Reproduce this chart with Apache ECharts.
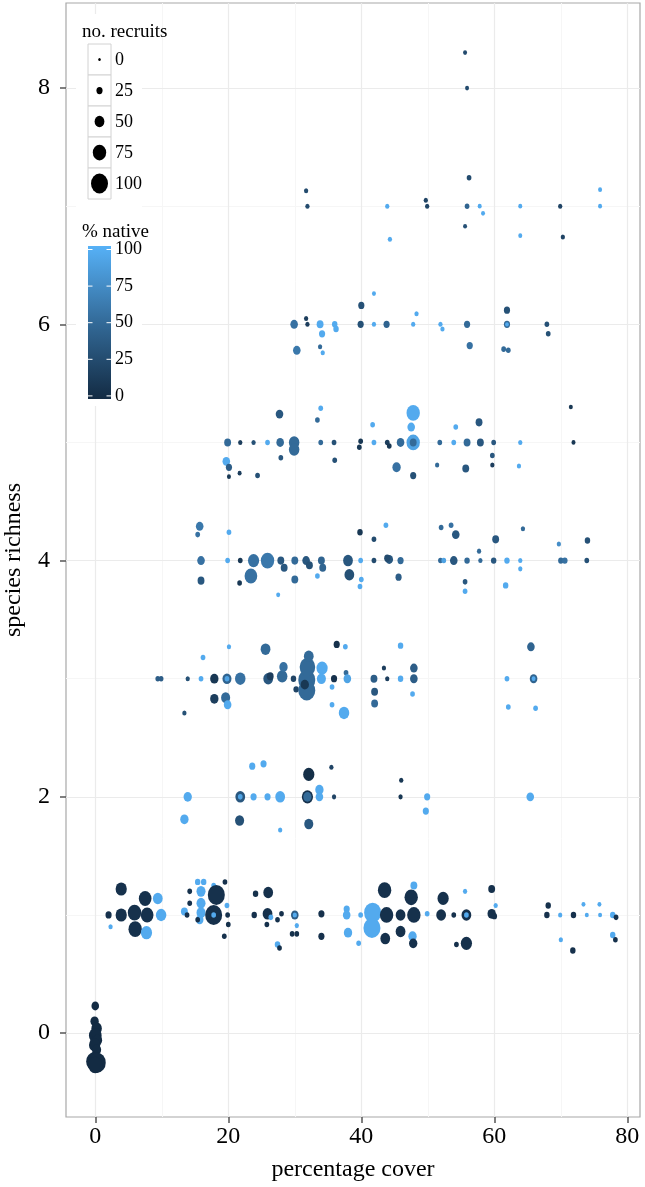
<!DOCTYPE html>
<html><head><meta charset="utf-8">
<script src="https://cdn.jsdelivr.net/npm/echarts@6/dist/echarts.min.js"></script>
<style>html,body{margin:0;padding:0;background:#fff}#c{width:645px;height:1187px}</style>
</head><body><div id="c"></div>
<script>
// each point: [percentage cover, species richness (jittered), no. recruits, % native]
const row0 = [[0.0,0.23,35,0],[-0.1,0.1,40,0],[0.2,0.04,55,0],[0.0,-0.02,70,0],[0.3,-0.06,50,0],[-0.1,-0.1,60,0],[0.2,-0.14,45,0],[0.0,-0.2,50,0],[-0.2,-0.24,90,0],[0.3,-0.25,100,0],[0.0,-0.27,80,0]];
const row1 = [[2.0,1.0,25,5],[2.3,0.9,12,95],[3.9,1.22,60,5],[3.9,1.0,60,5],[5.9,1.02,75,5],[6.0,0.88,75,5],[7.5,1.14,70,5],[7.8,1.0,70,5],[7.7,0.85,60,95],[9.4,1.14,50,95],[9.9,1.0,55,95],
  [13.4,1.03,30,95],[13.8,1.0,15,5],[14.2,1.2,15,5],[14.2,1.1,15,5],[15.4,1.28,20,95],[16.3,1.28,20,95],[15.9,1.2,45,95],[15.9,1.1,45,95],[15.9,1.02,45,95],[15.7,0.96,35,95],[15.4,0.96,15,5],
  [17.8,1.25,15,95],[18.2,1.17,100,5],[17.8,1.0,100,5],[17.8,1.0,15,95],[19.5,1.28,15,5],[19.8,1.08,15,95],[19.9,1.0,15,5],[20.0,0.92,15,5],[19.4,0.82,15,5],
  [24.1,1.18,20,5],[23.9,1.0,20,5],[26.0,1.19,50,5],[25.9,1.01,50,5],[25.8,0.92,15,5],[26.4,0.98,15,95],[27.4,0.96,15,5],[28.0,1.01,15,5],[27.4,0.75,20,95],[27.7,0.72,15,5],
  [30.0,1.0,35,40],[30.0,1.0,12,95],[30.3,0.91,12,95],[29.6,0.84,15,5],[30.3,0.84,15,5],[34.0,1.01,25,5],[34.0,0.82,25,5],
  [37.8,1.05,25,95],[37.8,1.0,35,95],[38.0,0.85,40,95],[39.6,0.76,15,95],[39.9,1.0,15,95],[41.7,1.02,100,95],[41.6,0.89,100,95],
  [43.5,1.21,75,5],[43.8,1.0,75,5],[43.6,0.8,50,5],[45.9,1.0,50,5],[45.9,0.86,50,5],[47.5,1.15,75,5],[47.9,1.25,30,95],[47.9,1.0,75,5],[47.7,0.82,40,95],[47.8,0.76,40,5],
  [49.9,1.01,15,95],[52.3,1.14,60,5],[52.0,1.0,50,5],[53.9,1.0,15,5],[55.6,1.2,12,95],[55.8,1.0,50,5],[55.8,1.0,15,95],[55.8,0.76,60,5],[54.3,0.75,15,5],
  [59.6,1.22,30,5],[60.2,1.08,12,95],[59.6,1.01,40,5],[60.0,0.99,20,5],
  [68.1,1.08,20,5],[67.9,1.0,20,5],[69.9,1.0,12,95],[70.0,0.79,12,95],[71.9,1.0,20,5],[71.8,0.7,20,5],[73.4,1.09,10,95],[73.9,1.0,10,95],[75.8,1.09,10,95],[75.9,1.0,10,95],
  [77.8,1.0,20,95],[78.3,0.98,15,5],[77.8,0.83,20,95],[78.2,0.79,15,5]];
const row2 = [[13.9,2.0,40,95],[13.4,1.81,40,95],[23.6,2.26,25,95],[25.3,2.28,25,95],[21.8,2.0,50,35],[21.8,2.0,15,90],[21.7,1.8,45,30],[23.8,2.0,25,95],[25.9,2.0,25,95],[27.8,2.0,50,95],[27.8,1.72,12,95],
  [32.1,2.19,60,3],[31.9,2.0,60,5],[31.9,2.0,40,50],[32.1,1.77,45,35],[33.7,2.06,40,95],[33.7,2.0,35,95],[35.5,2.25,12,20],[35.9,2.0,12,20],[46.0,2.14,12,10],[45.9,2.0,12,10],[49.9,2.0,25,95],[49.7,1.88,25,95],[65.4,2.0,35,95]];
const row3 = [[9.4,3.0,15,40],[9.9,3.0,15,40],[13.9,3.0,12,30],[13.4,2.71,12,30],[16.2,3.18,15,95],[15.9,3.0,15,95],[17.9,3.0,40,10],[17.9,2.83,40,15],[19.8,3.0,45,45],[19.8,3.0,15,90],[19.6,2.84,45,50],[19.9,2.78,35,95],[20.1,3.27,12,95],
  [21.8,3.0,55,55],[25.6,3.25,50,50],[26.0,3.0,50,35],[26.3,3.02,30,15],[28.1,3.02,55,50],[28.3,3.1,40,55],[29.8,3.0,20,20],[30.2,2.91,20,20],
  [31.8,2.99,100,50],[31.9,3.1,90,50],[31.8,2.9,100,50],[32.1,3.19,50,50],[31.5,2.95,40,10],[34.1,3.09,60,95],[34.0,3.0,45,95],[35.9,3.0,25,5],[36.3,3.29,25,5],[37.6,3.27,15,95],[37.7,3.05,15,50],[37.9,3.0,35,90],
  [35.6,2.93,15,95],[35.6,2.78,15,95],[37.4,2.71,55,95],[41.9,3.0,30,40],[42.0,2.89,30,35],[42.0,2.79,30,50],[43.4,3.09,12,15],[43.9,3.0,12,15],[45.9,3.0,20,95],[45.9,3.28,20,95],
  [47.9,3.09,35,40],[47.9,3.0,35,40],[47.7,2.87,15,95],[65.5,3.27,35,45],[65.9,3.0,35,45],[65.9,3.0,10,95],[61.9,3.0,15,95],[62.1,2.76,15,95],[66.2,2.75,15,95]];
const row4 = [[15.7,4.29,35,60],[15.4,4.22,15,55],[15.9,4.0,35,55],[15.9,3.83,30,35],[20.1,4.24,15,95],[19.9,4.0,15,95],[21.8,4.0,15,10],[21.7,3.81,15,10],[23.8,4.0,60,55],[23.4,3.87,70,55],[25.9,4.0,75,60],
  [27.5,3.71,10,95],[27.9,4.0,30,35],[28.4,3.94,30,35],[30.0,4.0,30,50],[30.0,3.84,30,50],[31.7,4.0,35,35],[32.2,3.96,30,30],[33.4,3.87,15,95],[34.0,4.0,30,45],[34.2,3.94,30,45],
  [38.0,4.0,50,35],[38.2,3.88,50,30],[39.8,4.24,20,10],[39.9,4.0,15,95],[40.0,3.84,15,95],[39.8,3.78,15,95],[41.9,4.18,15,25],[41.9,4.0,15,25],[43.7,4.3,15,95],[44.2,4.01,35,35],[43.9,4.02,25,25],
  [45.9,4.0,25,50],[45.6,3.86,25,40],[52.0,4.28,15,50],[53.5,4.3,15,55],[54.2,4.22,35,35],[51.9,4.0,15,50],[52.4,4.0,15,90],[53.9,4.0,35,35],[55.9,4.0,20,50],[55.6,3.82,15,35],[55.6,3.74,15,95],
  [57.7,4.08,12,50],[57.9,4.0,12,50],[59.9,4.0,20,35],[60.2,4.18,30,35],[61.9,4.0,20,95],[61.7,3.79,20,95],[63.9,4.0,12,95],[63.9,3.93,12,95],[64.3,4.27,12,50],
  [69.7,4.14,12,75],[70.0,4.0,20,50],[70.6,4.0,20,55],[74.0,4.17,20,30],[73.9,4.0,15,30]];
const row5 = [[19.9,5.0,30,50],[21.8,5.0,12,15],[23.8,5.0,12,30],[25.9,5.0,15,95],[27.8,5.0,35,50],[27.7,5.24,35,35],[27.9,4.87,15,35],[29.9,5.0,55,50],[29.9,4.94,55,50],
  [19.7,4.84,35,95],[20.1,4.79,25,40],[20.1,4.71,10,10],[21.7,4.74,10,15],[24.4,4.72,15,30],[33.9,5.29,15,95],[33.4,5.19,15,50],[33.9,5.0,15,50],[35.9,5.0,15,30],[36.0,4.85,15,30],
  [39.9,5.01,15,10],[39.7,4.96,15,10],[41.7,5.15,15,95],[41.9,5.0,15,95],[43.9,5.0,15,15],[44.2,4.97,15,10],[45.9,5.0,35,50],[45.3,4.79,40,55],
  [47.8,5.25,75,95],[47.5,5.13,35,95],[47.8,5.0,75,90],[47.8,5.0,30,50],[47.8,4.72,25,30],[51.8,5.0,15,50],[51.4,4.81,12,50],[54.2,5.13,15,95],[53.9,5.0,15,95],
  [55.9,5.0,30,50],[55.7,4.78,30,35],[57.7,5.17,30,35],[57.9,5.0,30,35],[59.9,5.0,15,35],[59.7,4.89,15,35],[59.7,4.81,12,15],[63.9,5.0,12,95],[63.7,4.8,12,95],[71.5,5.3,10,10],[71.9,5.0,10,10]];
const row6 = [[29.9,6.0,35,55],[30.3,5.78,35,60],[31.7,6.05,12,15],[31.9,6.0,12,15],[33.8,6.0,30,95],[34.1,5.92,25,95],[33.8,5.81,12,50],[34.2,5.76,12,95],[36.0,6.0,20,95],[36.2,5.96,20,95],
  [40.0,6.16,25,30],[39.9,6.0,25,30],[41.9,6.26,10,95],[41.9,6.0,12,95],[43.8,6.0,25,45],[47.8,6.0,12,95],[48.3,6.09,12,95],[51.9,6.0,12,95],[52.2,5.96,12,95],
  [55.9,6.0,25,50],[56.3,5.82,25,55],[61.9,6.12,25,30],[61.9,6.0,25,50],[61.9,6.0,8,95],[61.4,5.79,15,50],[62.1,5.78,15,50],[67.9,6.0,15,30],[68.1,5.92,15,30]];
const row7 = [[31.7,7.13,12,25],[31.9,7.0,12,25],[43.9,7.0,12,95],[44.3,6.72,12,95],[49.7,7.05,12,20],[49.9,7.0,12,20],[55.6,6.83,10,30],[55.9,7.0,15,45],[56.2,7.24,15,25],
  [57.8,7.0,10,95],[58.3,6.94,10,95],[63.9,7.0,10,95],[63.9,6.75,10,95],[69.9,7.0,12,20],[70.3,6.74,12,20],[75.9,7.14,10,95],[75.9,7.0,10,95]];
const row8 = [[55.6,8.3,10,25],[55.9,8.0,10,25]];

const xTicks = [0, 20, 40, 60, 80];
const xMinor = [10, 30, 50, 70];
const yTicks = [0, 2, 4, 6, 8];
const yMinor = [1, 3, 5, 7];
const sizeBreaks = [0, 25, 50, 75, 100];
const colorBreaks = [100, 75, 50, 25, 0];

const FONT = '"Liberation Serif", "DejaVu Serif", serif';
const LOW = '#132B43', MID = '#336A98', HIGH = '#56B1F7';
function dotH(v) { return 3 + 17 * v / 100; }

const points = [].concat(row0, row1, row2, row3, row4, row5, row6, row7, row8);

const chart = echarts.init(document.getElementById('c'), null, {renderer: 'canvas'});

const gridLines = [];
xMinor.forEach(v => gridLines.push({xAxis: v, lineStyle: {color: '#F6F6F6', width: 1, type: 'solid'}}));
yMinor.forEach(v => gridLines.push({yAxis: v, lineStyle: {color: '#F6F6F6', width: 1, type: 'solid'}}));
xTicks.forEach(v => gridLines.push({xAxis: v, lineStyle: {color: '#EBEBEB', width: 1.2, type: 'solid'}}));
yTicks.forEach(v => gridLines.push({yAxis: v, lineStyle: {color: '#EBEBEB', width: 1.2, type: 'solid'}}));

// legend graphics
const g = [];
g.push({type: 'rect', z: 50, shape: {x: 76, y: 14, width: 66, height: 392}, style: {fill: '#fff'}});
g.push({type: 'text', z: 51, x: 82, y: 32, style: {text: 'no. recruits', font: '19px ' + FONT, fill: '#000', textVerticalAlign: 'middle'}});
sizeBreaks.forEach((v, i) => {
  const top = 44 + 31 * i;
  g.push({type: 'rect', z: 51, shape: {x: 88, y: top, width: 23, height: 31}, style: {fill: '#fff', stroke: '#D2D2D2', lineWidth: 1}});
  const h = dotH(v);
  g.push({type: 'circle', z: 52, x: 99.5, y: top + 15.5, scaleX: 0.85, shape: {cx: 0, cy: 0, r: h / 2}, style: {fill: '#000'}});
  g.push({type: 'text', z: 52, x: 115, y: top + 16, style: {text: String(v), font: '18px ' + FONT, fill: '#000', textVerticalAlign: 'middle'}});
});
g.push({type: 'text', z: 51, x: 82, y: 232, style: {text: '% native', font: '19px ' + FONT, fill: '#000', textVerticalAlign: 'middle'}});
g.push({type: 'rect', z: 51, shape: {x: 88, y: 246, width: 23, height: 153}, style: {fill: new echarts.graphic.LinearGradient(0, 0, 0, 1, [{offset: 0, color: HIGH}, {offset: 0.5, color: MID}, {offset: 1, color: LOW}])}});
colorBreaks.forEach((v, i) => {
  const y = 249.5 + 36.6 * i;
  g.push({type: 'line', z: 52, shape: {x1: 88, y1: y, x2: 92.5, y2: y}, style: {stroke: '#fff', lineWidth: 1}});
  g.push({type: 'line', z: 52, shape: {x1: 106.5, y1: y, x2: 111, y2: y}, style: {stroke: '#fff', lineWidth: 1}});
  g.push({type: 'text', z: 52, x: 115, y: y, style: {text: String(v), font: '18px ' + FONT, fill: '#000', textVerticalAlign: 'middle'}});
});

chart.setOption({
  animation: false,
  backgroundColor: '#fff',
  grid: {left: 66, right: 5, top: 3, bottom: 70, containLabel: false, outerBoundsMode: 'none', show: true, borderColor: '#A8A8A8', borderWidth: 1.2, backgroundColor: 'transparent'},
  xAxis: {
    type: 'value', min: -4.4, max: 81.9,
    name: 'percentage cover', nameLocation: 'middle', nameGap: 41,
    nameTextStyle: {fontFamily: FONT, fontSize: 24, color: '#000'},
    axisLine: {show: false, onZero: false},
    axisTick: {show: true, length: 6, lineStyle: {color: '#555', width: 1.5}, customValues: xTicks},
    axisLabel: {customValues: xTicks, fontFamily: FONT, fontSize: 24, color: '#000', margin: 8},
    splitLine: {show: false}
  },
  yAxis: {
    type: 'value', min: -0.71, max: 8.72,
    name: 'species richness', nameLocation: 'middle', nameGap: 40, nameRotate: 90,
    nameTextStyle: {fontFamily: FONT, fontSize: 24, color: '#000'},
    axisLine: {show: false, onZero: false},
    axisTick: {show: true, length: 6, lineStyle: {color: '#555', width: 1.5}, customValues: yTicks},
    axisLabel: {customValues: yTicks, fontFamily: FONT, fontSize: 24, color: '#000', margin: 16},
    splitLine: {show: false}
  },
  visualMap: [{
    type: 'continuous', show: false, seriesIndex: 1, dimension: 3, min: 0, max: 100,
    inRange: {color: [LOW, MID, HIGH]}
  }],
  graphic: g,
  series: [
    {type: 'scatter', data: [], z: 1, silent: true,
     markLine: {z: 1, silent: true, symbol: ['none', 'none'], label: {show: false}, animation: false, data: gridLines}},
    {type: 'scatter', z: 3, data: points,
     symbolSize: function (v) { const h = dotH(v[2]); return [h * 0.85, h]; },
     itemStyle: {opacity: 1}}
  ]
});
</script></body></html>
